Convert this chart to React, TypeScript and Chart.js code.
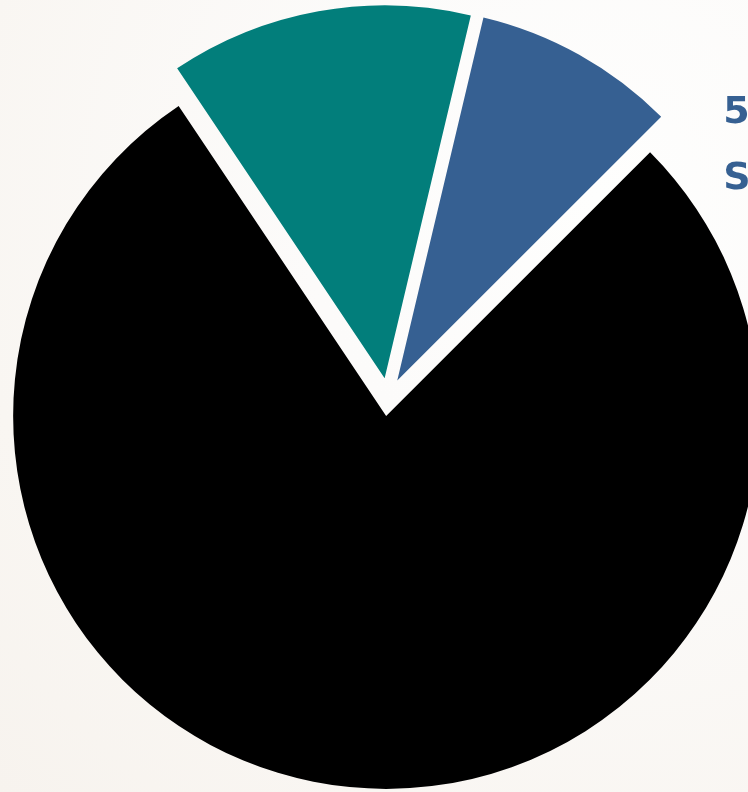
import React, { useEffect, useRef } from "react";
import { Chart, registerables } from "chart.js";

Chart.register(...registerables);

// Slice categories and their shares (percent of the whole)
const categories = ["Segment A", "Segment B", "Segment C"];
const values = [13.1, 8.8, 78.1];
const sliceColors = ["#027e7b", "#366092", "#000000"];
// Outside label attached to the blue slice (the rest is cut off by the frame)
const labelLines = ["5", "S"];
const labelSliceIndex = 1;

const explodePlugin = {
  id: "explodeSlices",
  afterDatasetsUpdate(chart: any, _args: any, opts: any) {
    const meta = chart.getDatasetMeta(0);
    meta.data.forEach((arc: any) => {
      const mid = (arc.startAngle + arc.endAngle) / 2;
      arc.x += Math.cos(mid) * opts.distance;
      arc.y += Math.sin(mid) * opts.distance;
    });
  },
};

const sliceLabelPlugin = {
  id: "sliceLabel",
  afterDatasetsDraw(chart: any, _args: any, opts: any) {
    const meta = chart.getDatasetMeta(0);
    const arc: any = meta.data[opts.index];
    if (!arc) return;
    const ax = arc.x + Math.cos(arc.endAngle) * arc.outerRadius;
    const ay = arc.y + Math.sin(arc.endAngle) * arc.outerRadius;
    const ctx = chart.ctx;
    ctx.save();
    ctx.fillStyle = opts.color;
    ctx.font = opts.font;
    ctx.textAlign = "left";
    ctx.textBaseline = "alphabetic";
    opts.lines.forEach((line: string, i: number) => {
      ctx.fillText(line, ax + opts.dx, ay + opts.dy + i * opts.lineHeight);
    });
    ctx.restore();
  },
};

export default function App() {
  const canvasRef = useRef<HTMLCanvasElement | null>(null);

  useEffect(() => {
    if (!canvasRef.current) return;
    const chart = new Chart(canvasRef.current, {
      type: "pie",
      data: {
        labels: categories,
        datasets: [
          {
            data: values,
            backgroundColor: sliceColors,
            borderWidth: 0,
            hoverOffset: 0,
          },
        ],
      },
      options: {
        responsive: false,
        animation: false,
        rotation: -33.8,
        radius: 373,
        layout: { padding: { left: 28, top: 2, right: 0, bottom: 0 } },
        events: [],
        plugins: {
          legend: { display: false },
          tooltip: { enabled: false },
          explodeSlices: { distance: 19 },
          sliceLabel: {
            index: labelSliceIndex,
            lines: labelLines,
            color: "#366092",
            font: "bold 38px 'DejaVu Sans', sans-serif",
            dx: 62,
            dy: 6,
            lineHeight: 66,
          },
        } as any,
      },
      plugins: [explodePlugin, sliceLabelPlugin],
    });
    return () => chart.destroy();
  }, []);

  return (
    <div
      style={{
        position: "fixed",
        left: 0,
        top: 0,
        width: 748,
        height: 792,
        overflow: "hidden",
        background:
          "radial-gradient(circle at 80% 25%, #fefefd 0%, #fcfbfa 35%, #f9f6f2 75%, #f7f3ee 100%)",
      }}
    >
      <canvas ref={canvasRef} width={748} height={792} style={{ display: "block" }} />
    </div>
  );
}
